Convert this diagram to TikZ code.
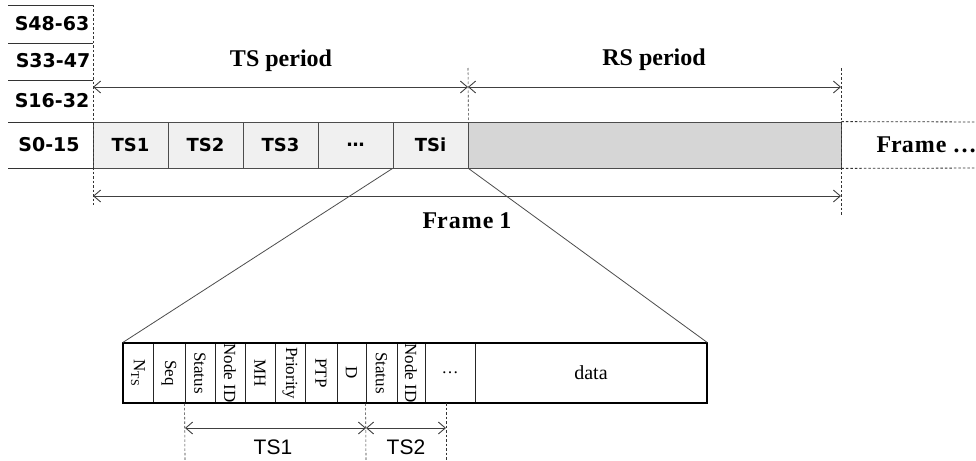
\documentclass[tikz,border=0pt]{standalone}
\usepackage{fontspec}
\setmainfont{Liberation Serif}
\newfontfamily\slotfont{DejaVu Sans}
\newfontfamily\armfont{Liberation Sans}
\usetikzlibrary{arrows.meta}

\tikzset{
  rowline/.style={black!80, line width=0.8pt},
  rowlbl/.style={font=\slotfont\bfseries\fontsize{19}{19}\selectfont},
  slot/.style={draw=black!70, fill=black!6, line width=0.8pt, minimum width=75pt,
    minimum height=46pt, inner sep=0pt, font=\slotfont\bfseries\fontsize{18}{18}\selectfont},
  field/.style={draw=black!85, line width=0.8pt, minimum height=60pt, inner sep=0pt,
    font=\fontsize{17}{17}\selectfont},
  guide/.style={black!80, line width=0.6pt, dash pattern=on 2.5pt off 2pt},
  span/.style={{Straight Barb[length=7pt,width=12pt]}-{Straight Barb[length=7pt,width=12pt]},
    black!75, line width=0.9pt},
  ttl/.style={font=\bfseries\fontsize{24}{24}\selectfont},
}

\begin{document}
\begin{tikzpicture}[x=1pt,y=-1pt]
\useasboundingbox (0,0) rectangle (976,460);

% left column of sub-frequency labels
\foreach \y in {5,43,80,122,168}
  \draw[rowline] (8,\y) -- (93,\y);
\node[rowlbl] (s4) at (52,24) {S48-63};
\node[rowlbl] (s3) at (53,61) {S33-47};
\node[rowlbl] (s2) at (52,101) {S16-32};
\node[rowlbl] (s1) at (49,145) {S0-15};

% frame row
\foreach \lbl [count=\i] in {TS1,TS2,TS3,\ldots,TSi}
  \node[slot] (ts\i) at ({55.5+75*\i},145) {\lbl};
\node[slot, fill=black!16, minimum width=373pt] (rs) at (654.5,145) {};
\coordinate (nxtN) at (990,122);
\coordinate (nxtS) at (990,168);
\draw[guide, line width=0.8pt] (rs.north east) -- (nxtN);
\draw[guide, line width=0.8pt] (rs.south east) -- (nxtS);
\node[ttl, anchor=west] (nxt) at (873,145) {Fra\kern1pt m\kern1pt e \ldots};

% guides and spans
\coordinate (g0t) at (93,5);
\coordinate (g0b) at (93,205);
\coordinate (g1t) at (468,68);
\coordinate (g2t) at (841,68);
\coordinate (g2b) at (841,215);
\draw[guide] (g0t) -- (g0b);
\draw[guide] (g1t) -- (ts5.north east);
\draw[guide] (g2t) -- (g2b);
\coordinate (a0) at (93,87);
\coordinate (a1) at (468,87);
\coordinate (a2) at (841,87);
\draw[span] (a0) -- (a1);
\draw[span] (a1) -- (a2);
\node[ttl] (tsp) at (281,61) {TS period};
\node[ttl] (rsp) at (654,60) {RS period};
\coordinate (f0) at (93,196);
\coordinate (f1) at (841,196);
\draw[span] (f0) -- (f1);
\node[ttl] (fr1) at (467,221) {Fr\kern1pt a\kern1pt m\kern1pt e 1};

% TSi zoomed out
\node[field, minimum width=30pt] (nts) at (138,373) {\rotatebox{-90}{N\textsubscript{\fontsize{12}{12}\selectfont TS}}};
\node[field, minimum width=32pt] (seq) at (169,373) {\rotatebox{-90}{Seq}};
\node[field, minimum width=30pt] (st1) at (200,373) {\rotatebox{-90}{Status}};
\node[field, minimum width=30pt] (id1) at (230,373) {\rotatebox{-90}{Node ID}};
\node[field, minimum width=30pt] (mh) at (260,373) {\rotatebox{-90}{MH}};
\node[field, minimum width=30pt] (pri) at (290,373) {\rotatebox{-90}{Priority}};
\node[field, minimum width=32pt] (ptp) at (321,373) {\rotatebox{-90}{PTP}};
\node[field, minimum width=29pt] (dd) at (351.5,373) {\rotatebox{-90}{D}};
\node[field, minimum width=31pt] (st2) at (381.5,373) {\rotatebox{-90}{Status}};
\node[field, minimum width=28pt] (id2) at (411,373) {\rotatebox{-90}{Node ID}};
\node[field, minimum width=50pt] (dts) at (450,373) {\ldots};
\node[field, minimum width=232pt, font=\fontsize{20}{20}\selectfont] (dat) at (591,373) {data};
\draw[black, line width=2pt] (nts.north west) rectangle (dat.south east);

\draw[black!70, line width=0.8pt] (ts5.south west) -- (nts.north west);
\draw[black!70, line width=0.8pt] (ts5.south east) -- (dat.north east);

% TS1 / TS2 spans
\coordinate (b0) at (185,460);
\coordinate (b1) at (366,460);
\coordinate (b2t) at (446,403);
\coordinate (b2) at (446,460);
\draw[guide] (st1.south west) -- (b0);
\draw[guide] (st2.south west) -- (b1);
\draw[guide] (b2t) -- (b2);
\coordinate (c0) at (185,428);
\coordinate (c1) at (366,428);
\coordinate (c2) at (446,428);
\draw[span] (c0) -- (c1);
\draw[span] (c1) -- (c2);
\node[font=\armfont\fontsize{21}{21}\selectfont] (lts1) at (273,447) {TS1};
\node[font=\armfont\fontsize{21}{21}\selectfont] (lts2) at (406,447) {TS2};
\end{tikzpicture}
\end{document}
